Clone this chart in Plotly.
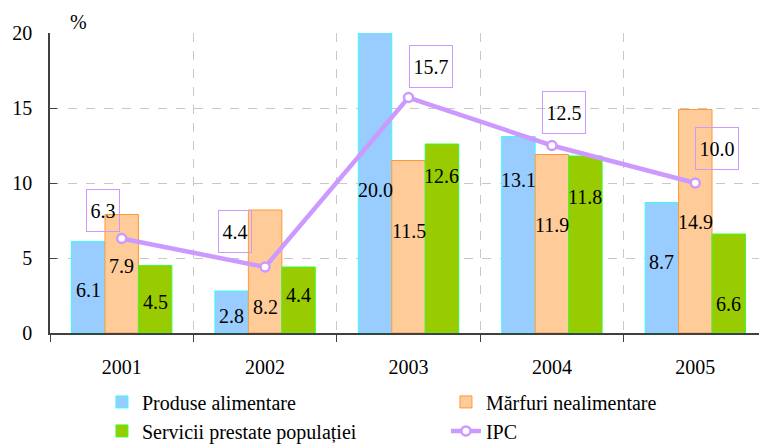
import plotly.graph_objects as go

years = ["2001", "2002", "2003", "2004", "2005"]
produse = [6.1, 2.8, 20.0, 13.1, 8.7]
marfuri = [7.9, 8.2, 11.5, 11.9, 14.9]
servicii = [4.5, 4.4, 12.6, 11.8, 6.6]
ipc = [6.3, 4.4, 15.7, 12.5, 10.0]

names = ["Produse alimentare", "Mărfuri nealimentare", "Servicii prestate populației", "IPC"]

FONT = "Liberation Serif, Times New Roman, serif"
FS = 20

# layout geometry (figure is 8px smaller than the window because of the page body margin)
W, H = 759, 436
ML, MR, MT, MB = 42, 0, 25, 111
BARGAP = 0.30
cat_px = (W - ML - MR) / len(years)
bar_px = cat_px * (1 - BARGAP) / 3

# label nudges (px, upward) relative to the middle of each bar, per series
label_nudge = [
    [-3, -4, -7, 55, 6],
    [8, -35, 16, 19, -1],
    [-3, 5, 63, 48, -20],
]

fig = go.Figure()

bar_styles = [
    (produse, "#99CCFF", "#33FFFF", "legend"),
    (marfuri, "#FFCC99", "#FF9933", "legend2"),
    (servicii, "#99CC00", "#33FF33", "legend"),
]
for k, ((vals, fill, edge, lg), nm) in enumerate(zip(bar_styles, names[:3])):
    fig.add_trace(go.Bar(
        x=years, y=vals, name=nm, legend=lg,
        marker=dict(color=fill, line=dict(color=edge, width=1)),
        cliponaxis=False,
    ))
    for i, v in enumerate(vals):
        fig.add_annotation(
            x=i, y=v / 2, text=f"{v:.1f}", showarrow=False,
            xshift=(k - 1) * bar_px, yshift=label_nudge[k][i],
            font=dict(family=FONT, size=FS, color="black"),
        )

fig.add_trace(go.Scatter(
    x=years, y=ipc, name=names[3], mode="lines+markers", legend="legend2",
    line=dict(color="#CC99FF", width=4.5),
    marker=dict(symbol="circle", size=9, color="white",
                line=dict(color="#CC99FF", width=2.5)),
))

# IPC value labels in boxes (x given as category index)
shifts = [(-19, 28), (-30, 36), (22, 31), (12, 33), (22, 35)]
for i, (v, (dx, dy)) in enumerate(zip(ipc, shifts)):
    txt = f"{v:.1f}"
    fig.add_annotation(
        x=i, y=v, text=txt, showarrow=False,
        xshift=dx, yshift=dy,
        width=26 if len(txt) == 3 else 36, height=35,
        font=dict(family=FONT, size=FS, color="black"),
        bordercolor="#CC99FF", borderwidth=1, borderpad=3,
    )

fig.add_annotation(
    x=0, y=1.0, xref="paper", yref="paper", xshift=28, yshift=-2,
    text="%", showarrow=False, xanchor="center", yanchor="bottom",
    font=dict(family=FONT, size=FS, color="black"),
)

legend_common = dict(
    orientation="v", xref="container", yref="paper",
    xanchor="left", yanchor="top",
    font=dict(family=FONT, size=20, color="black"),
    tracegroupgap=0, bgcolor="rgba(0,0,0,0)",
)

fig.update_layout(
    width=W, height=H,
    margin=dict(l=ML, r=MR, t=MT, b=MB, autoexpand=False),
    paper_bgcolor="white", plot_bgcolor="white",
    font=dict(family=FONT, size=FS, color="black"),
    barmode="group", bargap=BARGAP, bargroupgap=0,
    showlegend=True,
    legend=dict(x=0.1238, y=-0.1647, **legend_common),
    legend2=dict(x=0.577, y=-0.1647, **legend_common),
)

fig.update_xaxes(
    type="category", range=[-0.5, 4.5], automargin=False,
    tickson="boundaries", ticks="outside", ticklen=7, tickcolor="#404040",
    showline=True, linecolor="#404040", linewidth=1.5,
    showgrid=True, gridcolor="#C8C8C8", griddash="dash", gridwidth=1,
    tickfont=dict(family=FONT, size=FS, color="black"),
    ticklabelstandoff=15,
)
fig.update_yaxes(
    range=[0, 20], dtick=5, tick0=0, automargin=False,
    ticks="inside", ticklen=7, tickcolor="#404040",
    showline=True, linecolor="#404040", linewidth=1.5,
    showgrid=True, gridcolor="#C8C8C8", griddash="dash", gridwidth=1,
    zeroline=False,
    tickfont=dict(family=FONT, size=FS, color="black"),
    ticklabelstandoff=12,
)

fig.write_html("out.html")
